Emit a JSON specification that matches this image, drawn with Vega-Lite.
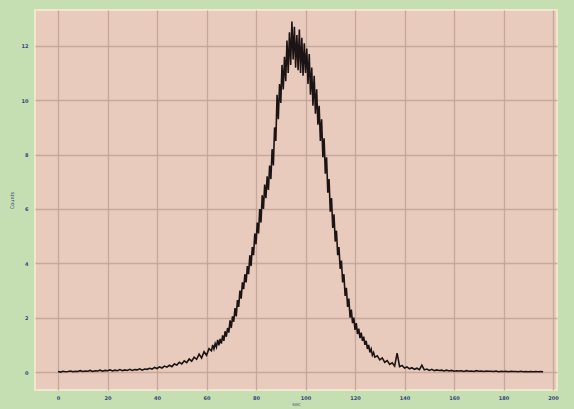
{
  "$schema": "https://vega.github.io/schema/vega-lite/v6.json",
  "width": 522,
  "height": 380,
  "autosize": {"type": "none"},
  "padding": {"left": 35, "top": 10, "right": 17, "bottom": 19},
  "background": "#c6dfb2",
  "config": {
    "view": {"fill": "#e8cbbc", "stroke": "#f1e7cf", "strokeWidth": 2},
    "axis": {
      "gridColor": "#c0a396",
      "gridWidth": 1.3,
      "gridOpacity": 0.85,
      "domain": false,
      "ticks": false,
      "labelFont": "DejaVu Sans",
      "labelFontSize": 5,
      "labelFontWeight": "bold",
      "labelColor": "#34467a",
      "titleFont": "DejaVu Sans",
      "titleFontSize": 5,
      "titleFontWeight": "normal",
      "titleColor": "#34467a"
    }
  },
  "data": {
    "values": [
      {"t":0,"c":0.02},{"t":1,"c":0.0},{"t":2,"c":0.03},{"t":3,"c":0.01},{"t":4,"c":0.02},{"t":5,"c":0.04},{"t":6,"c":0.01},{"t":7,"c":0.03},{"t":8,"c":0.02},{"t":9,"c":0.05},
      {"t":10,"c":0.02},{"t":11,"c":0.04},{"t":12,"c":0.03},{"t":13,"c":0.06},{"t":14,"c":0.02},{"t":15,"c":0.05},{"t":16,"c":0.04},{"t":17,"c":0.07},{"t":18,"c":0.03},{"t":19,"c":0.06},
      {"t":20,"c":0.05},{"t":21,"c":0.08},{"t":22,"c":0.04},{"t":23,"c":0.07},{"t":24,"c":0.05},{"t":25,"c":0.09},{"t":26,"c":0.05},{"t":27,"c":0.08},{"t":28,"c":0.06},{"t":29,"c":0.1},
      {"t":30,"c":0.06},{"t":31,"c":0.09},{"t":32,"c":0.08},{"t":33,"c":0.12},{"t":34,"c":0.07},{"t":35,"c":0.11},{"t":36,"c":0.1},{"t":37,"c":0.14},{"t":38,"c":0.11},{"t":39,"c":0.17},
      {"t":40,"c":0.13},{"t":41,"c":0.19},{"t":42,"c":0.15},{"t":43,"c":0.22},{"t":44,"c":0.18},{"t":45,"c":0.25},{"t":46,"c":0.2},{"t":47,"c":0.3},{"t":48,"c":0.26},{"t":49,"c":0.36},
      {"t":50,"c":0.3},{"t":51,"c":0.41},{"t":52,"c":0.35},{"t":53,"c":0.48},{"t":54,"c":0.4},{"t":55,"c":0.55},{"t":56,"c":0.47},{"t":57,"c":0.66},{"t":58,"c":0.52},{"t":59,"c":0.75},
      {"t":60,"c":0.62},{"t":61,"c":0.86},
      {"t":62,"c":0.78},{"t":62.5,"c":1.0},{"t":63,"c":0.85},{"t":63.5,"c":1.05},{"t":64,"c":0.92},{"t":64.5,"c":1.18},{"t":65,"c":0.98},{"t":65.5,"c":1.22},{"t":66,"c":1.05},{"t":66.5,"c":1.35},
      {"t":67,"c":1.15},{"t":67.5,"c":1.5},{"t":68,"c":1.3},{"t":68.5,"c":1.62},{"t":69,"c":1.45},{"t":69.5,"c":1.9},{"t":70,"c":1.62},{"t":70.5,"c":2.05},{"t":71,"c":1.85},{"t":71.5,"c":2.35},
      {"t":72,"c":2.05},{"t":72.5,"c":2.65},{"t":73,"c":2.4},{"t":73.5,"c":3.0},{"t":74,"c":2.7},{"t":74.5,"c":3.3},{"t":75,"c":3.05},{"t":75.5,"c":3.6},{"t":76,"c":3.3},{"t":76.5,"c":3.9},
      {"t":77,"c":3.6},{"t":77.5,"c":4.3},{"t":78,"c":3.9},{"t":78.5,"c":4.6},{"t":79,"c":4.3},{"t":79.5,"c":5.1},{"t":80,"c":4.7},{"t":80.5,"c":5.5},{"t":81,"c":5.1},{"t":81.5,"c":6.0},
      {"t":82,"c":5.5},{"t":82.5,"c":6.5},{"t":83,"c":6.0},{"t":83.5,"c":6.9},{"t":84,"c":6.4},{"t":84.5,"c":7.2},{"t":85,"c":6.7},{"t":85.5,"c":7.6},{"t":86,"c":7.1},{"t":86.5,"c":8.2},
      {"t":87,"c":7.6},{"t":87.5,"c":9.0},{"t":88,"c":8.5},{"t":88.5,"c":10.2},{"t":89,"c":9.3},{"t":89.5,"c":10.6},{"t":90,"c":9.9},{"t":90.5,"c":11.3},{"t":91,"c":10.4},{"t":91.5,"c":11.6},
      {"t":92,"c":10.7},{"t":92.5,"c":12.2},{"t":93,"c":11.0},{"t":93.5,"c":12.5},{"t":94,"c":11.3},{"t":94.5,"c":12.9},{"t":95,"c":11.5},{"t":95.5,"c":12.7},{"t":96,"c":11.2},{"t":96.5,"c":12.4},
      {"t":97,"c":11.1},{"t":97.5,"c":12.6},{"t":98,"c":11.0},{"t":98.5,"c":12.3},{"t":99,"c":10.9},{"t":99.5,"c":12.1},{"t":100,"c":11.0},{"t":100.5,"c":11.9},{"t":101,"c":10.6},{"t":101.5,"c":11.7},
      {"t":102,"c":10.2},{"t":102.5,"c":11.2},{"t":103,"c":9.8},{"t":103.5,"c":10.9},{"t":104,"c":9.5},{"t":104.5,"c":10.4},{"t":105,"c":9.1},{"t":105.5,"c":9.8},{"t":106,"c":8.5},{"t":106.5,"c":9.3},
      {"t":107,"c":7.9},{"t":107.5,"c":8.6},{"t":108,"c":7.3},{"t":108.5,"c":7.9},{"t":109,"c":6.6},{"t":109.5,"c":7.1},{"t":110,"c":5.9},{"t":110.5,"c":6.4},{"t":111,"c":5.3},{"t":111.5,"c":5.8},
      {"t":112,"c":4.8},{"t":112.5,"c":5.2},{"t":113,"c":4.3},{"t":113.5,"c":4.6},{"t":114,"c":3.8},{"t":114.5,"c":4.1},{"t":115,"c":3.3},{"t":115.5,"c":3.6},{"t":116,"c":2.8},{"t":116.5,"c":3.1},
      {"t":117,"c":2.4},{"t":117.5,"c":2.7},{"t":118,"c":2.0},{"t":118.5,"c":2.3},{"t":119,"c":1.8},{"t":119.5,"c":2.0},{"t":120,"c":1.55},{"t":120.5,"c":1.8},{"t":121,"c":1.4},{"t":121.5,"c":1.6},
      {"t":122,"c":1.25},{"t":122.5,"c":1.45},{"t":123,"c":1.15},{"t":123.5,"c":1.3},{"t":124,"c":1.0},{"t":124.5,"c":1.15},{"t":125,"c":0.85},{"t":125.5,"c":1.0},{"t":126,"c":0.72},{"t":126.5,"c":0.85},
      {"t":127,"c":0.62},{"t":127.5,"c":0.72},{"t":128,"c":0.55},
      {"t":129,"c":0.6},{"t":130,"c":0.45},{"t":131,"c":0.52},{"t":132,"c":0.36},{"t":133,"c":0.42},{"t":134,"c":0.28},{"t":135,"c":0.34},{"t":136,"c":0.22},{"t":137,"c":0.7},{"t":138,"c":0.2},
      {"t":139,"c":0.24},{"t":140,"c":0.15},{"t":141,"c":0.19},{"t":142,"c":0.12},{"t":143,"c":0.16},{"t":144,"c":0.1},{"t":145,"c":0.14},{"t":146,"c":0.09},{"t":147,"c":0.25},{"t":148,"c":0.08},
      {"t":149,"c":0.11},{"t":150,"c":0.06},{"t":151,"c":0.1},{"t":152,"c":0.05},{"t":153,"c":0.08},{"t":154,"c":0.06},{"t":155,"c":0.07},{"t":156,"c":0.04},{"t":157,"c":0.07},{"t":158,"c":0.04},
      {"t":159,"c":0.06},{"t":160,"c":0.03},{"t":161,"c":0.05},{"t":162,"c":0.04},{"t":163,"c":0.05},{"t":164,"c":0.02},{"t":165,"c":0.05},{"t":166,"c":0.03},{"t":167,"c":0.04},{"t":168,"c":0.02},
      {"t":169,"c":0.05},{"t":170,"c":0.03},{"t":171,"c":0.04},{"t":172,"c":0.02},{"t":173,"c":0.04},{"t":174,"c":0.03},{"t":175,"c":0.03},{"t":176,"c":0.02},{"t":177,"c":0.04},{"t":178,"c":0.01},
      {"t":179,"c":0.03},{"t":180,"c":0.02},{"t":181,"c":0.03},{"t":182,"c":0.01},{"t":183,"c":0.03},{"t":184,"c":0.02},{"t":185,"c":0.02},{"t":186,"c":0.01},{"t":187,"c":0.03},{"t":188,"c":0.01},
      {"t":189,"c":0.02},{"t":190,"c":0.01},{"t":191,"c":0.02},{"t":192,"c":0.01},{"t":193,"c":0.02},{"t":194,"c":0.01},{"t":195,"c":0.02},{"t":196,"c":0.01}
    ]
  },
  "mark": {"type": "line", "color": "#1c1414", "strokeWidth": 1.6, "interpolate": "linear"},
  "encoding": {
    "x": {
      "field": "t",
      "type": "quantitative",
      "scale": {"domain": [-9.3, 201.6], "nice": false, "zero": false},
      "axis": {"values": [0,20,40,60,80,100,120,140,160,180,200], "title": "sec", "labelPadding": 5, "titlePadding": 1}
    },
    "y": {
      "field": "c",
      "type": "quantitative",
      "scale": {"domain": [-0.66, 13.32], "nice": false, "zero": false},
      "axis": {"values": [0,2,4,6,8,10,12], "title": "Counts", "labelPadding": 7, "titlePadding": 7}
    }
  }
}
